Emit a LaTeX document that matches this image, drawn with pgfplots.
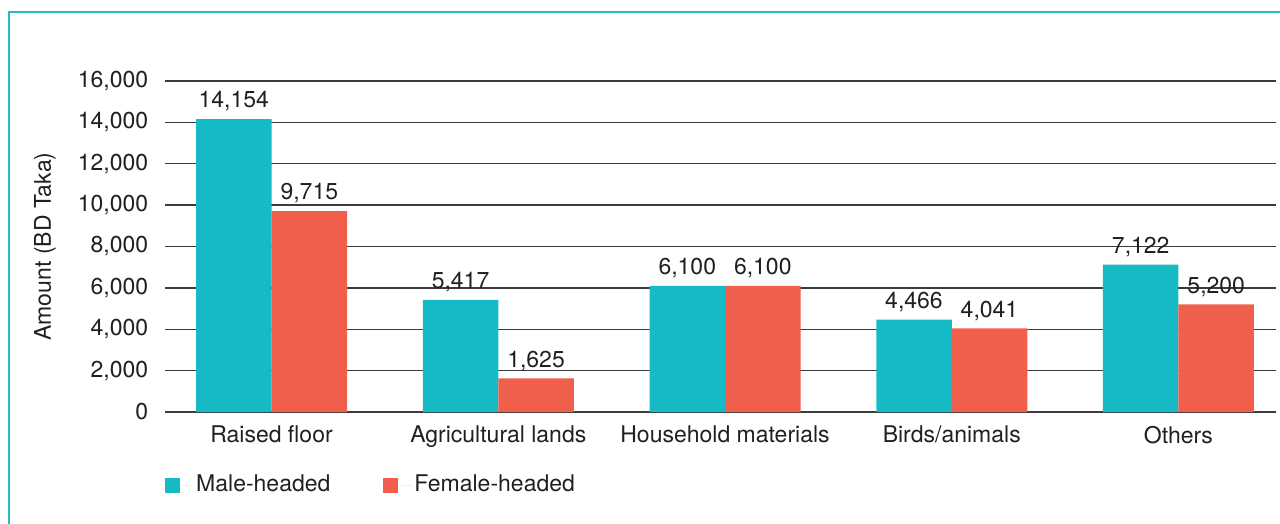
\documentclass[border=0pt]{standalone}
\usepackage{pgfplots}
\pgfplotsset{compat=1.18}
\usepackage{fontspec}
\setmainfont{TeX Gyre Heros}
\definecolor{male}{HTML}{16BAC4}
\definecolor{female}{HTML}{F05F4B}
\definecolor{frame}{HTML}{1CBFC6}
\definecolor{txt}{HTML}{231F20}
\definecolor{gridc}{HTML}{3C3C3C}
\newcommand{\cf}{\fontsize{23}{27}\selectfont}
\begin{document}
\cf
\begin{tikzpicture}[x=1pt,y=1pt]
\useasboundingbox (0,0) rectangle (1280,523);
\draw[frame, line width=2.2pt] (9,-20) -- (9,511) -- (1300,511);
\begin{axis}[
  at={(165pt,111pt)}, anchor=south west,
  scale only axis, width=1111pt, height=331pt,
  ymin=0, ymax=16000, xmin=-0.47, xmax=4.43,
  ytick={0,2000,...,16000},
  xtick={0,1,2,3,4},
  xticklabels={Raised floor, Agricultural lands, Household materials, Birds/animals, Others},
  scaled y ticks=false,
  /pgf/number format/.cd, fixed, precision=0, 1000 sep={,}, assume math mode=true, /pgfplots/.cd,
  ymajorgrids, major grid style={gridc, line width=1.3pt},
  axis line style={draw=none}, major tick length=0pt, tick style={draw=none},
  ticklabel style={text=txt, font=\cf},
  xticklabel style={yshift=-6pt},
  yticklabel style={xshift=-9pt},
  ylabel={Amount (BD Taka)},
  ylabel style={at={(axis description cs:-0.108,0.5)}, anchor=center, text=txt, font=\cf},
  ybar=0pt,
  bar width=75.5pt,
  nodes near coords,
  every node near coord/.append style={text=txt, font=\cf},
  legend style={at={(0,0)}, anchor=west, yshift=-73pt, draw=none, fill=none, inner sep=0pt, font=\cf, text=txt,
     /tikz/every even column/.append style={column sep=51pt}},
  legend columns=2,
  legend image code/.code={\fill[#1] (0pt,-7.5pt) rectangle (15pt,7.5pt); \path (0pt,0pt) -- (29pt,0pt);},
]
\addplot[fill=male, draw=none, bar shift=-37.75pt] coordinates {(0,14154) (1,5417) (2,6100) (3,4466) (4,7122)};
\addplot[fill=female, draw=none, bar shift=37.75pt] coordinates {(0,9715) (1,1625) (2,6100) (3,4041) (4,5200)};
\legend{Male-headed, Female-headed}
\end{axis}
\end{tikzpicture}
\end{document}
